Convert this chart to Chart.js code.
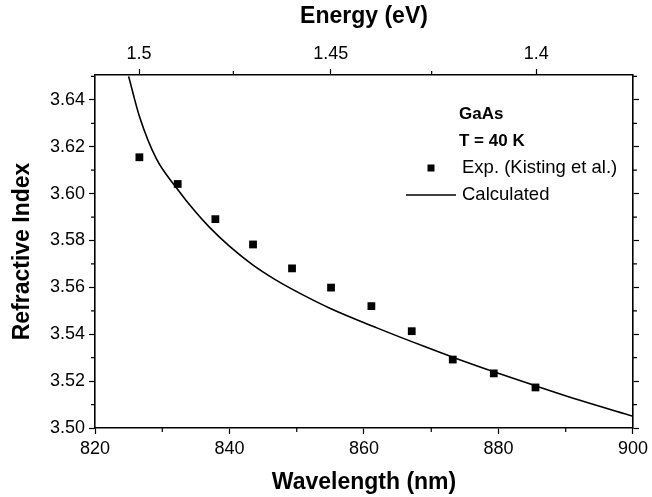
<!DOCTYPE html>
<html>
<head>
<meta charset="utf-8">
<script src="https://cdn.jsdelivr.net/npm/chart.js@4.4.0/dist/chart.umd.min.js"></script>
<style>
  html, body { margin: 0; padding: 0; background: #fff; }
  #wrap { width: 652px; height: 497px; }
</style>
</head>
<body>
<div id="wrap"><canvas id="chart" width="652" height="497"></canvas></div>
<script>
// measured points (Kisting et al.)
const expWavelength = [826.6, 832.3, 837.9, 843.5, 849.3, 855.1, 861.1, 867.1, 873.2, 879.3, 885.5];
const expIndex = [3.6155, 3.6041, 3.5891, 3.5783, 3.5681, 3.5599, 3.5520, 3.5413, 3.5292, 3.5233, 3.5173];

// calculated curve
const calcWavelength = [825.0, 826.6, 829.1, 832.1, 835.0, 837.0, 839.9, 843.4, 846.8, 850.7, 855.0, 862.1, 869.4, 873.2, 879.3, 885.5, 892.1, 900.0];
const calcIndex = [3.650, 3.633, 3.6150, 3.6025, 3.5920, 3.5857, 3.5778, 3.5697, 3.5633, 3.5571, 3.5510, 3.5425, 3.5343, 3.5302, 3.5240, 3.5180, 3.5118, 3.5050];

// axis ticks
const wavelengthTicks = [820, 840, 860, 880, 900];
const wavelengthMinor = [830, 850, 870, 890];
const indexTicks = [3.50, 3.52, 3.54, 3.56, 3.58, 3.60, 3.62, 3.64];
const indexMinor = [3.51, 3.53, 3.55, 3.57, 3.59, 3.61, 3.63, 3.65];
const energyTicks = [1.5, 1.45, 1.4];
const energyMinor = [1.475, 1.425];
const HC = 1239.84; // eV*nm

const legendLines = ["GaAs", "T = 40 K"];

Chart.defaults.font.family = "'Liberation Sans', Arial, sans-serif";
Chart.defaults.color = "#000";

// small ticks between the labelled ones
const minorTicks = {
  id: "minorTicks",
  afterDraw(chart) {
    const { ctx, chartArea: a, scales } = chart;
    const len = 4;
    ctx.save();
    ctx.strokeStyle = "#000";
    ctx.lineWidth = 1.2;
    ctx.beginPath();
    indexMinor.forEach(v => {
      const y = scales.y.getPixelForValue(v);
      if (y < a.top - 0.5) return;
      ctx.moveTo(a.left - len, y); ctx.lineTo(a.left, y);
      ctx.moveTo(a.right, y); ctx.lineTo(a.right + len, y);
    });
    wavelengthMinor.forEach(v => {
      const x = scales.x.getPixelForValue(v);
      ctx.moveTo(x, a.bottom); ctx.lineTo(x, a.bottom + len);
    });
    energyMinor.forEach(e => {
      const x = scales.x2.getPixelForValue(HC / e);
      ctx.moveTo(x, a.top - len); ctx.lineTo(x, a.top);
    });
    ctx.stroke();
    ctx.restore();
  }
};

// legend block inside the plot
const textLegend = {
  id: "textLegend",
  afterDraw(chart) {
    const { ctx } = chart;
    ctx.save();
    ctx.fillStyle = "#000";
    ctx.textBaseline = "middle";
    ctx.textAlign = "left";
    ctx.font = "bold 17px 'Liberation Sans', Arial, sans-serif";
    ctx.fillText(legendLines[0], 459, 114);
    ctx.fillText(legendLines[1], 459, 141);
    ctx.font = "18.5px 'Liberation Sans', Arial, sans-serif";
    ctx.fillText(chart.data.datasets[0].label, 462, 168);
    ctx.fillText(chart.data.datasets[1].label, 462, 195);
    ctx.fillRect(427.5, 164.5, 7, 7);
    ctx.strokeStyle = "#000";
    ctx.lineWidth = 1.6;
    ctx.beginPath();
    ctx.moveTo(406, 195);
    ctx.lineTo(456, 195);
    ctx.stroke();
    ctx.restore();
  }
};

const axisGrid = { drawOnChartArea: false, color: "#000", tickLength: 6, tickWidth: 1.2 };
const axisBorder = { color: "#000", width: 1.6 };

new Chart(document.getElementById("chart"), {
  type: "scatter",
  data: {
    datasets: [
      {
        label: "Exp. (Kisting et al.)",
        data: expWavelength.map((w, i) => ({ x: w, y: expIndex[i] })),
        pointStyle: "rect",
        pointRadius: 5.5,
        backgroundColor: "#000",
        borderWidth: 0
      },
      {
        label: "Calculated",
        data: calcWavelength.map((w, i) => ({ x: w, y: calcIndex[i] })),
        showLine: true,
        borderColor: "#000",
        borderWidth: 1.6,
        pointRadius: 0,
        cubicInterpolationMode: "monotone"
      }
    ]
  },
  options: {
    responsive: false,
    animation: false,
    layout: { padding: 0 },
    plugins: {
      legend: { display: false },
      tooltip: { enabled: false }
    },
    scales: {
      x: {
        type: "linear",
        position: "bottom",
        min: 820,
        max: 900,
        afterBuildTicks: s => { s.ticks = wavelengthTicks.map(v => ({ value: v })); },
        afterFit: s => { s.height = 69; },
        ticks: { font: { size: 18 }, padding: 4, autoSkip: false, maxRotation: 0 },
        grid: axisGrid,
        border: axisBorder,
        title: { display: true, text: "Wavelength (nm)", font: { size: 23, weight: "bold" }, padding: { top: 0, bottom: 1 } }
      },
      x2: {
        type: "linear",
        position: "top",
        min: 820,
        max: 900,
        afterBuildTicks: s => { s.ticks = energyTicks.map(e => ({ value: HC / e })); },
        afterFit: s => { s.height = 75; },
        ticks: {
          font: { size: 18 }, padding: 4, autoSkip: false, maxRotation: 0,
          callback: v => String(Math.round(HC / v * 1000) / 1000)
        },
        grid: axisGrid,
        border: axisBorder,
        title: { display: true, text: "Energy (eV)", font: { size: 23, weight: "bold" }, padding: { top: 3, bottom: 0 } }
      },
      y: {
        type: "linear",
        position: "left",
        min: 3.50,
        max: 3.6506,
        afterBuildTicks: s => { s.ticks = indexTicks.map(v => ({ value: v })); },
        afterFit: s => { s.width = 95; },
        ticks: { font: { size: 18 }, padding: 4, autoSkip: false, callback: v => v.toFixed(2) },
        grid: axisGrid,
        border: axisBorder,
        title: { display: true, text: "Refractive Index", font: { size: 23, weight: "bold" }, padding: { top: 9, bottom: 0 } }
      },
      y2: {
        type: "linear",
        position: "right",
        min: 3.50,
        max: 3.6506,
        afterBuildTicks: s => { s.ticks = indexTicks.map(v => ({ value: v })); },
        afterFit: s => { s.width = 15; },
        ticks: { callback: () => "" },
        grid: axisGrid,
        border: axisBorder
      }
    }
  },
  plugins: [minorTicks, textLegend]
});
</script>
</body>
</html>
